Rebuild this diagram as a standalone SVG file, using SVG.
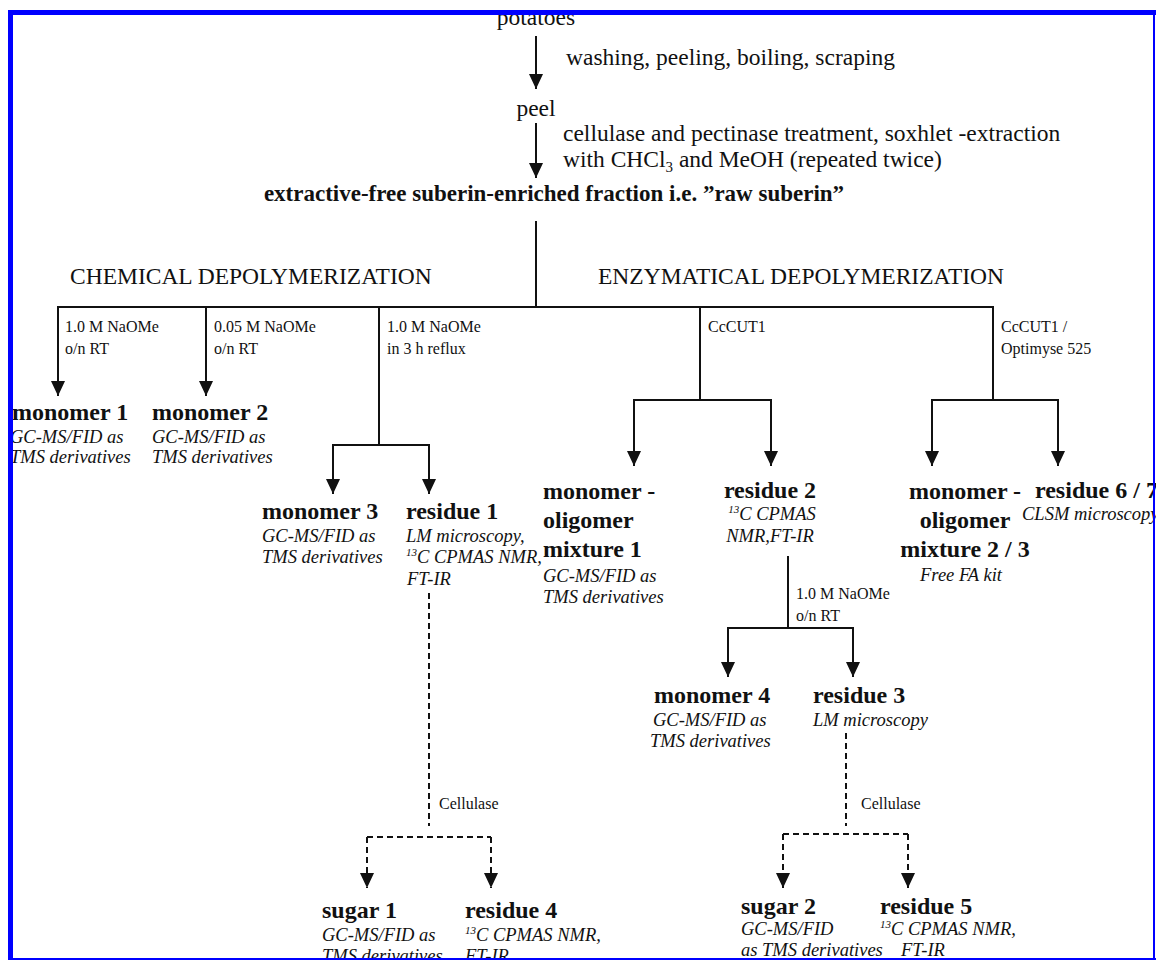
<svg xmlns="http://www.w3.org/2000/svg" width="1156" height="960" viewBox="0 0 1156 960">
<style>
text{font-family:"Liberation Serif","Times New Roman",serif;fill:#111}
.t{font-size:23.5px}
.b{font-size:23px;font-weight:bold}
.lbl{font-size:16px}
.bn{font-size:24px;font-weight:bold}
.it{font-size:18.5px;font-style:italic}
.m{text-anchor:middle}
.ln{stroke:#111;stroke-width:2;fill:none}
.ds{stroke:#111;stroke-width:2;fill:none;stroke-dasharray:6 4}
.ar{marker-end:url(#ah)}
.frame{fill:#0000ff}
</style>
<defs>
<marker id="ah" markerUnits="userSpaceOnUse" markerWidth="15" markerHeight="14" refX="15" refY="7" orient="auto">
<path d="M0,0 L15,7 L0,14 z" fill="#111"/>
</marker>
</defs>
<rect width="1156" height="960" fill="#fff"/>

<g id="connectors">
<line class="ln ar" x1="536" y1="36" x2="536" y2="89"/>
<line class="ln ar" x1="536" y1="123" x2="536" y2="178"/>
<line class="ln" x1="536" y1="221" x2="536" y2="307"/>
<line class="ln" x1="57" y1="307" x2="994" y2="307"/>
<line class="ln ar" x1="58" y1="307" x2="58" y2="396"/>
<line class="ln ar" x1="206" y1="307" x2="206" y2="396"/>
<line class="ln" x1="379" y1="307" x2="379" y2="445"/>
<line class="ln" x1="332" y1="445" x2="430" y2="445"/>
<line class="ln ar" x1="333" y1="445" x2="333" y2="494"/>
<line class="ln ar" x1="429" y1="445" x2="429" y2="494"/>
<line class="ln" x1="700" y1="307" x2="700" y2="400"/>
<line class="ln" x1="633" y1="400" x2="772" y2="400"/>
<line class="ln ar" x1="634" y1="400" x2="634" y2="466"/>
<line class="ln ar" x1="771" y1="400" x2="771" y2="466"/>
<line class="ln" x1="993" y1="307" x2="993" y2="400"/>
<line class="ln" x1="931" y1="400" x2="1059" y2="400"/>
<line class="ln ar" x1="932" y1="400" x2="932" y2="466"/>
<line class="ln ar" x1="1058" y1="400" x2="1058" y2="466"/>
<line class="ln" x1="788" y1="556" x2="788" y2="628"/>
<line class="ln" x1="727" y1="628" x2="854" y2="628"/>
<line class="ln ar" x1="728" y1="628" x2="728" y2="677"/>
<line class="ln ar" x1="853" y1="628" x2="853" y2="677"/>
<line class="ds" x1="429" y1="593" x2="429" y2="826"/>
<line class="ds" x1="367" y1="837" x2="491" y2="837"/>
<line class="ds ar" x1="367" y1="837" x2="367" y2="888"/>
<line class="ds ar" x1="491" y1="837" x2="491" y2="888"/>
<line class="ds" x1="846" y1="733" x2="846" y2="826"/>
<line class="ds" x1="783" y1="834" x2="908" y2="834"/>
<line class="ds ar" x1="783" y1="834" x2="783" y2="888"/>
<line class="ds ar" x1="908" y1="834" x2="908" y2="888"/>
</g>

<g id="labels">
<text class="t" x="566" y="65">washing, peeling, boiling, scraping</text>
<text class="t" x="563" y="141">cellulase and pectinase treatment, soxhlet -extraction</text>
<text class="t" x="563" y="167">with CHCl<tspan font-size="15" dy="5">3</tspan><tspan dy="-5"> and MeOH (repeated twice)</tspan></text>
<text class="t" x="70" y="284">CHEMICAL DEPOLYMERIZATION</text>
<text class="t" x="598" y="284">ENZYMATICAL DEPOLYMERIZATION</text>
<text class="lbl" x="65" y="332">1.0 M NaOMe</text>
<text class="lbl" x="65" y="354">o/n RT</text>
<text class="lbl" x="214" y="332">0.05 M NaOMe</text>
<text class="lbl" x="214" y="354">o/n RT</text>
<text class="lbl" x="387" y="332">1.0 M NaOMe</text>
<text class="lbl" x="387" y="354">in 3 h reflux</text>
<text class="lbl" x="708" y="332">CcCUT1</text>
<text class="lbl" x="1001" y="332">CcCUT1 /</text>
<text class="lbl" x="1001" y="354">Optimyse 525</text>
<text class="lbl" x="796" y="599">1.0 M NaOMe</text>
<text class="lbl" x="796" y="621">o/n RT</text>
<text class="lbl" x="439" y="809">Cellulase</text>
<text class="lbl" x="861" y="809">Cellulase</text>
</g>

<g id="potatoes"><text class="t m" x="536" y="25">potatoes</text></g>
<g id="peel"><text class="t m" x="536" y="116">peel</text></g>
<g id="raw-suberin"><text class="b m" x="554" y="201">extractive-free suberin-enriched fraction i.e. ”raw suberin”</text></g>

<g id="monomer1">
<text class="bn" x="12" y="420">monomer 1</text>
<text class="it" x="10" y="443">GC-MS/FID as</text>
<text class="it" x="10" y="463">TMS derivatives</text>
</g>
<g id="monomer2">
<text class="bn" x="152" y="420">monomer 2</text>
<text class="it" x="152" y="443">GC-MS/FID as</text>
<text class="it" x="152" y="463">TMS derivatives</text>
</g>
<g id="monomer3">
<text class="bn" x="262" y="519">monomer 3</text>
<text class="it" x="262" y="542">GC-MS/FID as</text>
<text class="it" x="262" y="563">TMS derivatives</text>
</g>
<g id="residue1">
<text class="bn" x="406" y="519">residue 1</text>
<text class="it" x="406" y="542">LM microscopy,</text>
<text class="it" x="406" y="563"><tspan font-size="11" dy="-7">13</tspan><tspan dy="7">C CPMAS NMR,</tspan></text>
<text class="it" x="407" y="585">FT-IR</text>
</g>
<g id="mixture1">
<text class="bn" x="543" y="499">monomer -</text>
<text class="bn" x="543" y="528">oligomer</text>
<text class="bn" x="543" y="557">mixture 1</text>
<text class="it" x="543" y="582">GC-MS/FID as</text>
<text class="it" x="543" y="603">TMS derivatives</text>
</g>
<g id="residue2">
<text class="bn m" x="770" y="498">residue 2</text>
<text class="it m" x="772" y="520"><tspan font-size="11" dy="-7">13</tspan><tspan dy="7">C CPMAS</tspan></text>
<text class="it m" x="770" y="542">NMR,FT-IR</text>
</g>
<g id="mixture23">
<text class="bn m" x="965" y="499">monomer -</text>
<text class="bn m" x="965" y="528">oligomer</text>
<text class="bn m" x="965" y="557">mixture 2 / 3</text>
<text class="it m" x="961" y="581">Free FA kit</text>
</g>
<g id="residue67">
<text class="bn" x="1035" y="498">residue 6 / 7</text>
<text class="it" x="1022" y="520">CLSM microscopy</text>
</g>
<g id="monomer4">
<text class="bn" x="654" y="703">monomer 4</text>
<text class="it" x="653" y="726">GC-MS/FID as</text>
<text class="it" x="650" y="747">TMS derivatives</text>
</g>
<g id="residue3">
<text class="bn" x="813" y="703">residue 3</text>
<text class="it" x="813" y="726">LM microscopy</text>
</g>
<g id="sugar1">
<text class="bn" x="322" y="918">sugar 1</text>
<text class="it" x="322" y="941">GC-MS/FID as</text>
<text class="it" x="322" y="962">TMS derivatives</text>
</g>
<g id="residue4">
<text class="bn" x="465" y="918">residue 4</text>
<text class="it" x="465" y="941"><tspan font-size="11" dy="-7">13</tspan><tspan dy="7">C CPMAS NMR,</tspan></text>
<text class="it" x="465" y="962">FT-IR</text>
</g>
<g id="sugar2">
<text class="bn" x="741" y="914">sugar 2</text>
<text class="it" x="741" y="935">GC-MS/FID</text>
<text class="it" x="741" y="956">as TMS derivatives</text>
</g>
<g id="residue5">
<text class="bn" x="880" y="914">residue 5</text>
<text class="it" x="880" y="935"><tspan font-size="11" dy="-7">13</tspan><tspan dy="7">C CPMAS NMR,</tspan></text>
<text class="it" x="901" y="956">FT-IR</text>
</g>

<g id="frame">
<rect class="frame" x="8" y="10" width="1148" height="5"/>
<rect class="frame" x="8" y="10" width="5" height="950"/>
<rect class="frame" x="1153" y="10" width="2" height="950"/>
<rect class="frame" x="8" y="958" width="1148" height="2"/>
</g>
</svg>
